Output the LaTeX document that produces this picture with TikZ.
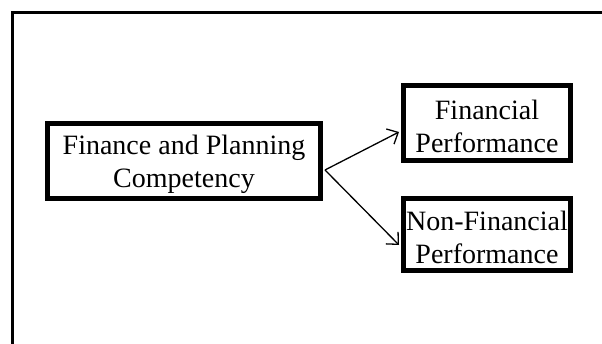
\documentclass[tikz,border=0pt]{standalone}
\usepackage{fontspec}
\setmainfont{Liberation Serif}
\usetikzlibrary{arrows.meta}
\newcommand{\lowtext}{\rule{0pt}{26pt}}
\begin{document}
\begin{tikzpicture}[x=1pt,y=1pt,
  boxnode/.style={draw=black, line width=5pt, fill=white, align=center,
    inner sep=0pt, font=\fontsize{28}{33}\selectfont},
  link/.style={line width=1.3pt, -{Straight Barb[length=9pt,width=17pt,line width=1.3pt]}}]
\useasboundingbox (0,0) rectangle (602,344);
\fill[white] (0,0) rectangle (602,344);
\coordinate (fb) at (12.5,0);
\coordinate (fc) at (12.5,331.5);
\coordinate (fr) at (602,331.5);
\draw[line width=3pt] (fb) -- (fc) -- (fr);
\node[boxnode, minimum width=273pt, minimum height=75pt] (main) at (184,183) {\lowtext Finance and Planning\\Competency};
\node[boxnode, minimum width=167pt, minimum height=75pt] (fin) at (487,221) {\lowtext Financial\\Performance};
\node[boxnode, minimum width=167pt, minimum height=72pt] (non) at (487,109.5) {\lowtext Non-Financial\\Performance};
\draw[link] ([xshift=2pt,yshift=-9pt]main.east) -- ([xshift=-2pt,yshift=-9pt]fin.west);
\draw[link] ([xshift=2pt,yshift=-9pt]main.east) -- ([xshift=-2pt,yshift=-10.5pt]non.west);
\end{tikzpicture}
\end{document}
